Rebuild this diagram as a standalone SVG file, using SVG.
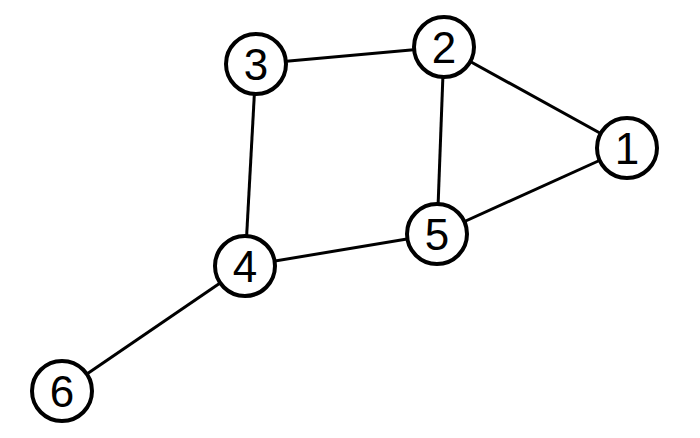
<svg xmlns="http://www.w3.org/2000/svg" width="700" height="438" viewBox="0 0 700 438">
<style>
.edge{stroke:#000;stroke-width:3;fill:none}
.node circle{fill:#fff;stroke:#000;stroke-width:4}
.node text{font-family:"Liberation Sans",Arial,sans-serif;font-size:44px;fill:#000;text-anchor:middle}
</style>
<rect width="700" height="438" fill="#fff"/>
<g id="edges">
<line class="edge" x1="256" y1="64" x2="444" y2="47"/>
<line class="edge" x1="444" y1="47" x2="627" y2="148"/>
<line class="edge" x1="444" y1="47" x2="437" y2="234"/>
<line class="edge" x1="627" y1="148" x2="437" y2="234"/>
<line class="edge" x1="437" y1="234" x2="245" y2="266"/>
<line class="edge" x1="256" y1="64" x2="245" y2="266"/>
<line class="edge" x1="245" y1="266" x2="62" y2="391"/>
</g>
<g id="node1" class="node"><circle cx="627" cy="148" r="30"/><text x="627" y="164">1</text></g>
<g id="node2" class="node"><circle cx="444" cy="47" r="30"/><text x="444" y="63">2</text></g>
<g id="node3" class="node"><circle cx="256" cy="64" r="30"/><text x="256" y="80">3</text></g>
<g id="node4" class="node"><circle cx="245" cy="266" r="30"/><text x="245" y="282">4</text></g>
<g id="node5" class="node"><circle cx="437" cy="234" r="30"/><text x="437" y="250">5</text></g>
<g id="node6" class="node"><circle cx="62" cy="391" r="30"/><text x="62" y="407">6</text></g>
</svg>
